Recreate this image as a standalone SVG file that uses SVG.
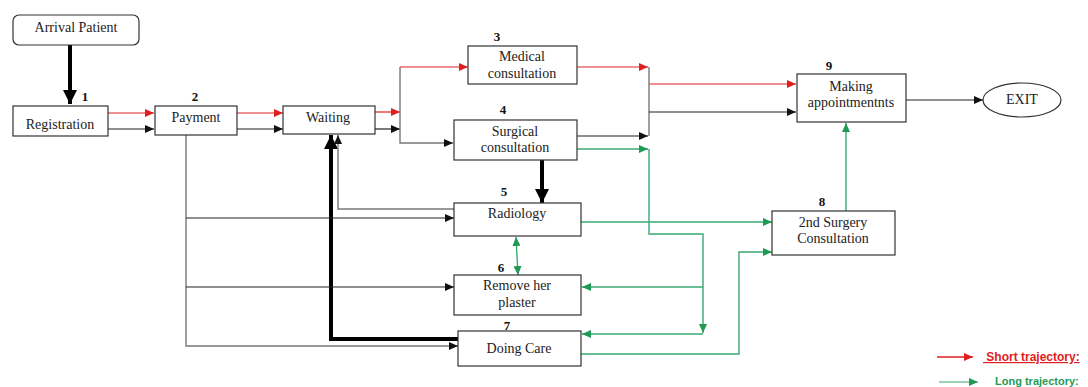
<svg xmlns="http://www.w3.org/2000/svg" width="1088" height="387" viewBox="0 0 1088 387">
<style>
.box{fill:#fff;stroke:#333;stroke-width:1.2}
.t{font-family:"Liberation Serif","Times New Roman",serif;font-size:14px;fill:#222;text-anchor:middle}
.n{font-family:"Liberation Serif","Times New Roman",serif;font-size:13px;font-weight:bold;fill:#111;text-anchor:middle}
.r{fill:none;stroke:#e02020;stroke-width:1.2}
.k{fill:none;stroke:#222;stroke-width:1.2}
.g{fill:none;stroke:#3aa872;stroke-width:1.4}
.gr{fill:none;stroke:#777;stroke-width:1.4}
.thick{fill:none;stroke:#000;stroke-width:4}
</style>
<defs>
<marker id="aR" markerUnits="userSpaceOnUse" markerWidth="9" markerHeight="8" refX="9" refY="4" orient="auto"><path d="M0,0 L9,4 L0,8 z" fill="#e02020"/></marker>
<marker id="aK" markerUnits="userSpaceOnUse" markerWidth="9" markerHeight="8" refX="9" refY="4" orient="auto"><path d="M0,0 L9,4 L0,8 z" fill="#111"/></marker>
<marker id="aG" markerUnits="userSpaceOnUse" markerWidth="9" markerHeight="8" refX="9" refY="4" orient="auto"><path d="M0,0 L9,4 L0,8 z" fill="#1f9a55"/></marker>
<marker id="aGs" markerUnits="userSpaceOnUse" markerWidth="9" markerHeight="8" refX="0" refY="4" orient="auto"><path d="M9,0 L0,4 L9,8 z" fill="#1f9a55"/></marker>
<marker id="aT" markerUnits="userSpaceOnUse" markerWidth="14" markerHeight="14" refX="14" refY="7" orient="auto"><path d="M0,0 L14,7 L0,14 z" fill="#000"/></marker>
</defs>

<g id="connectors">
<!-- thick -->
<path class="thick" d="M70,45 V104" marker-end="url(#aT)"/>
<path class="thick" d="M542,160 V203" marker-end="url(#aT)"/>
<path class="thick" d="M458,339 H331 V135" marker-end="url(#aT)"/>
<!-- red -->
<path class="r" d="M108,113 H154" marker-end="url(#aR)"/>
<path class="r" d="M237,113 H283" marker-end="url(#aR)"/>
<path class="r" d="M375,112 H400" marker-end="url(#aR)"/>
<path class="r" d="M400,67 H468" marker-end="url(#aR)"/>
<path class="r" d="M577,67 H648" marker-end="url(#aR)"/>
<path class="r" d="M649,84 H796" marker-end="url(#aR)"/>
<!-- black -->
<path class="k" d="M108,129 H154" marker-end="url(#aK)"/>
<path class="k" d="M237,129 H283" marker-end="url(#aK)"/>
<path class="k" d="M375,129 H400" marker-end="url(#aK)"/>
<path class="gr" d="M400,67 V143 H453" marker-end="url(#aK)"/>
<path class="k" d="M577,136 H648" marker-end="url(#aK)"/>
<path class="gr" d="M649,67 V136"/>
<path class="k" d="M649,112 H796" marker-end="url(#aK)"/>
<path class="k" d="M906,100 H983" marker-end="url(#aK)"/>
<path class="gr" d="M186,135 V346 H458" marker-end="url(#aK)"/>
<path class="k" d="M186,218 H454" marker-end="url(#aK)"/>
<path class="k" d="M186,287 H454" marker-end="url(#aK)"/>
<path class="gr" d="M454,209 H338 V135" marker-end="url(#aK)"/>
<!-- green -->
<path class="g" d="M577,149 H648" marker-end="url(#aG)"/>
<path class="g" d="M649,149 V234 H703 V333" marker-end="url(#aG)"/>
<path class="g" d="M703,287 H582" marker-end="url(#aG)"/>
<path class="g" d="M703,334 H582" marker-end="url(#aG)"/>
<path class="g" d="M581,222 H772" marker-end="url(#aG)"/>
<path class="g" d="M581,354 H739 V252 H772" marker-end="url(#aG)"/>
<path class="g" d="M846,211 V123" marker-end="url(#aG)"/>
<path class="g" d="M516,237 L518,275" marker-start="url(#aGs)" marker-end="url(#aG)"/>
</g>

<g id="arrival"><rect class="box" x="13" y="15" width="126" height="30" rx="6"/><text class="t" x="76" y="32">Arrival Patient</text></g>
<g id="registration"><rect class="box" x="13" y="106" width="95" height="30"/><text class="t" x="60" y="129">Registration</text><text class="n" x="85" y="101">1</text></g>
<g id="payment"><rect class="box" x="155" y="106" width="82" height="29"/><text class="t" x="196" y="122">Payment</text><text class="n" x="195" y="101">2</text></g>
<g id="waiting"><rect class="box" x="283" y="106" width="92" height="28"/><text class="t" x="328" y="122">Waiting</text></g>
<g id="medical"><rect class="box" x="468" y="46" width="109" height="38"/><text class="t" x="522" y="61">Medical</text><text class="t" x="522" y="78">consultation</text><text class="n" x="497" y="41">3</text></g>
<g id="surgical"><rect class="box" x="454" y="120" width="123" height="40"/><text class="t" x="515" y="136">Surgical</text><text class="t" x="515" y="152">consultation</text><text class="n" x="503" y="114">4</text></g>
<g id="radiology"><rect class="box" x="454" y="203" width="127" height="33"/><text class="t" x="517" y="218">Radiology</text><text class="n" x="504" y="196">5</text></g>
<g id="plaster"><rect class="box" x="454" y="275" width="127" height="40"/><text class="t" x="517" y="290">Remove her</text><text class="t" x="517" y="307">plaster</text><text class="n" x="501" y="272">6</text></g>
<g id="care"><rect class="box" x="458" y="331" width="123" height="35"/><text class="t" x="519" y="353">Doing Care</text><text class="n" x="507" y="330">7</text></g>
<g id="surgery2"><rect class="box" x="772" y="211" width="123" height="44"/><text class="t" x="833" y="227">2nd Surgery</text><text class="t" x="833" y="243">Consultation</text><text class="n" x="822" y="206">8</text></g>
<g id="appointments"><rect class="box" x="797" y="74" width="109" height="48"/><text class="t" x="851" y="91">Making</text><text class="t" x="851" y="107">appointmentnts</text><text class="n" x="829" y="70">9</text></g>
<g id="exit"><ellipse class="box" cx="1022" cy="100" rx="39" ry="17"/><text class="t" x="1022" y="104">EXIT</text></g>

<g id="legend">
<path d="M937,357 H973" stroke="#e02020" stroke-width="1.4" fill="none" marker-end="url(#aR)"/>
<text x="983" y="361" font-family="'Liberation Sans',Arial,sans-serif" font-size="12" font-weight="bold" fill="#e02020" text-decoration="underline">&#160;Short trajectory:</text>
<path d="M939,382 H978" stroke="#3aa872" stroke-width="1.2" fill="none" marker-end="url(#aG)"/>
<text x="995" y="385" font-family="'Liberation Sans',Arial,sans-serif" font-size="11" font-weight="bold" fill="#1f9a55">Long  trajectory:</text>
</g>
</svg>
